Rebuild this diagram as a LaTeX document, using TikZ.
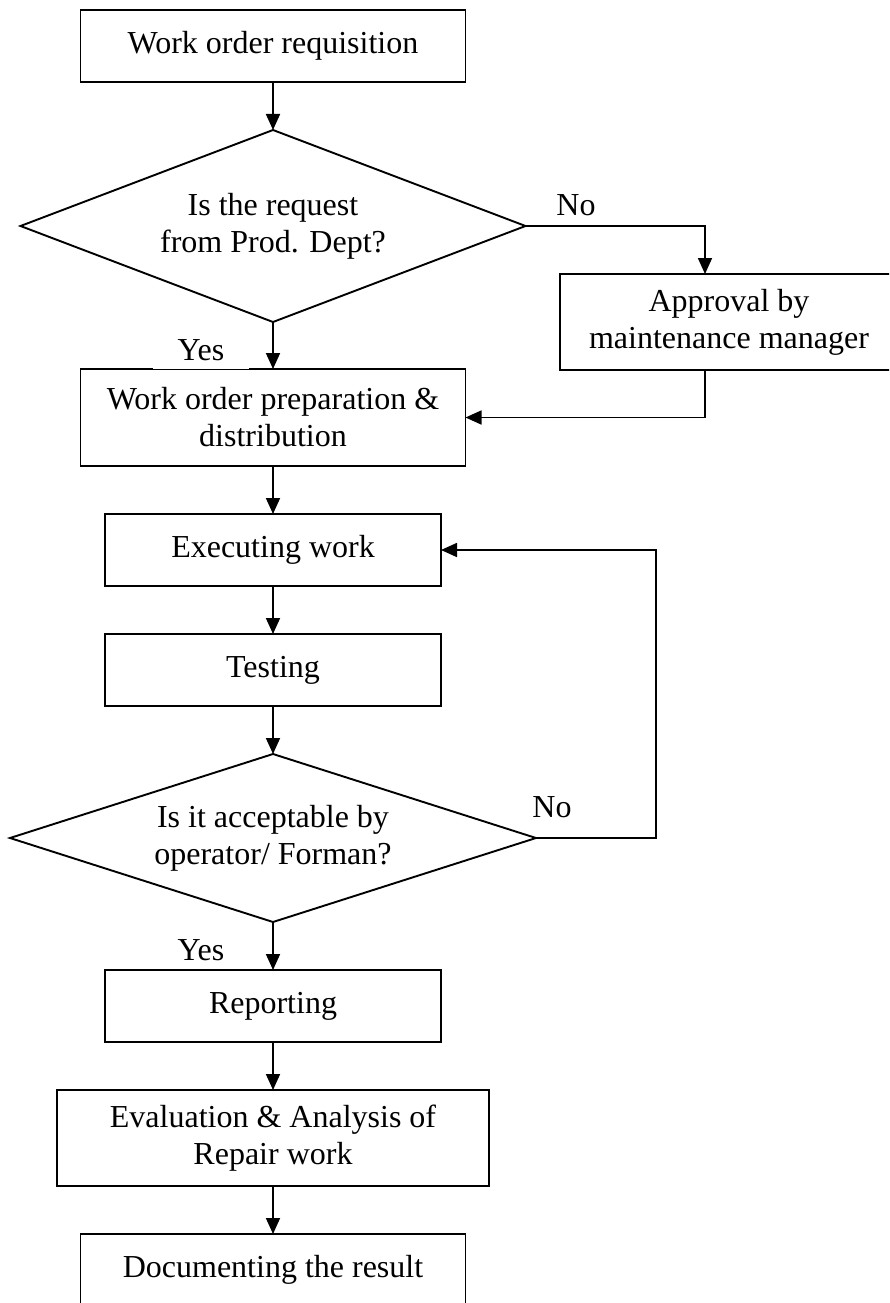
\documentclass[tikz,border=0pt]{standalone}
\usepackage{fontspec}
\setmainfont{Liberation Serif}
\usetikzlibrary{shapes.geometric,arrows.meta}
\begin{document}
\begin{tikzpicture}[x=1pt,y=-1pt,
  every node/.style={font=\fontsize{32}{37}\selectfont},
  box/.style={draw,rectangle,line width=1.9pt,align=center,inner sep=0pt,outer sep=0pt},
  dec/.style={draw,diamond,line width=1.9pt,align=center,inner sep=0pt,outer sep=0pt,aspect=2.6},
  conn/.style={line width=1.7pt,-{Triangle[length=16pt,width=14pt]}},
  lbl/.style={inner sep=0pt,fill=white}]
\useasboundingbox (0,0) rectangle (889,1303);
\clip (0,0) rectangle (889,1303);
\node[box,minimum width=385pt,minimum height=72pt] (b1) at (273,46) {Work order requisition};
\node[dec,minimum width=505pt,minimum height=192pt] (d1) at (273,226) {Is the request\\from Prod. Dept?};
\node[box,minimum width=370pt,minimum height=96pt,anchor=west] (ap) at (560,322) {\hspace*{-32pt}Approval by\\\hspace*{-32pt}maintenance manager};
\node[box,minimum width=385pt,minimum height=97pt] (b2) at (273,417.5) {Work order preparation \&\\distribution};
\node[box,minimum width=336pt,minimum height=72pt] (b3) at (273,550) {Executing work};
\node[box,minimum width=336pt,minimum height=72pt] (b4) at (273,670) {Testing};
\node[dec,minimum width=526pt,minimum height=168pt,aspect=3.1] (d2) at (273,838) {Is it acceptable by\\operator/ Forman?};
\node[box,minimum width=336pt,minimum height=72pt] (b5) at (273,1006) {Reporting};
\node[box,minimum width=432pt,minimum height=96pt] (b6) at (273,1138) {Evaluation \& Analysis of\\Repair work};
\node[box,minimum width=385pt,minimum height=72pt] (b7) at (273,1270) {Documenting the result};
\node[lbl] (no1) at (576,205) {No};
\node[lbl] (no2) at (552,807) {No};
\node[lbl,minimum width=96pt,minimum height=38pt] (yes1) at (201,350) {Yes};
\node[lbl,minimum width=96pt,minimum height=38pt] (yes2) at (201,950) {Yes};
\coordinate (apin) at (705,274);
\coordinate (apout) at (705,370);
\coordinate (lp) at (656,838);
\draw[conn] (b1) -- (d1.north);
\draw[conn] (d1.south) -- (b2.north);
\draw[conn] (d1.east) -| (apin);
\draw[conn] (apout) |- (b2.east);
\draw[conn] (b2) -- (b3);
\draw[conn] (b3) -- (b4);
\draw[conn] (b4) -- (d2.north);
\draw[conn] (d2.east) -- (lp) |- (b3.east);
\draw[conn] (d2.south) -- (b5.north);
\draw[conn] (b5) -- (b6);
\draw[conn] (b6) -- (b7);
\end{tikzpicture}
\end{document}
